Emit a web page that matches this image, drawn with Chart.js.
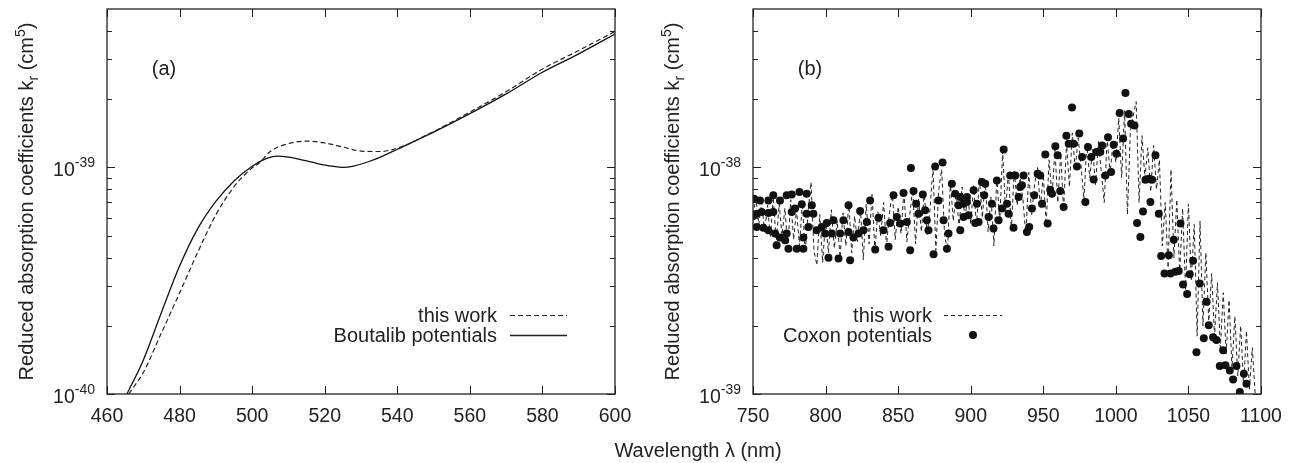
<!DOCTYPE html>
<html>
<head>
<meta charset="utf-8">
<script src="https://cdn.jsdelivr.net/npm/chart.js@4.4.0/dist/chart.umd.min.js"></script>
<style>
  html, body { margin: 0; padding: 0; background: #fff; }
  #wrap { position: relative; width: 1295px; height: 463px; overflow: hidden; }
  canvas { position: absolute; top: 0; }
  #chartA { left: 0; }
  #chartB { left: 640px; }
  #xTitle {
    position: absolute; left: 578px; top: 439px; width: 240px;
    text-align: center; color: #222; line-height: 20px;
    font: 20px "Liberation Sans", Arial, sans-serif;
  }
</style>
</head>
<body>
<div id="wrap">
  <canvas id="chartA" width="640" height="463"></canvas>
  <canvas id="chartB" width="655" height="463"></canvas>
  <div id="xTitle">Wavelength λ (nm)</div>
</div>
<script>
// values are in units of 1e-39 cm^5

// Panel (a)
const boutalibLambda = [465.5, 470, 475, 480, 485, 490, 495, 500, 504, 507, 510, 514, 518, 522, 525, 528, 532, 536, 540, 550, 560, 570, 580, 590, 600];
const boutalibK      = [0.100, 0.141, 0.229, 0.367, 0.537, 0.708, 0.871, 1.012, 1.096, 1.122, 1.109, 1.076, 1.040, 1.012, 1.000, 1.014, 1.059, 1.122, 1.202, 1.430, 1.726, 2.110, 2.630, 3.170, 3.880];
const thisWorkALambda = [466, 470, 475, 480, 485, 490, 495, 500, 502, 505, 510, 515, 520, 525, 530, 535, 540, 550, 560, 570, 580, 590, 600];
const thisWorkAK      = [0.100, 0.1245, 0.186, 0.279, 0.422, 0.617, 0.822, 0.995, 1.047, 1.175, 1.274, 1.306, 1.282, 1.230, 1.180, 1.175, 1.216, 1.440, 1.754, 2.160, 2.716, 3.280, 3.980];

// Panel (b)
const thisWorkBLambda = [
  750, 752, 754, 756, 758, 760, 762, 764, 766, 768, 770, 772, 774, 776, 778, 780, 782, 784, 786, 788,
  790, 792, 794, 796, 798, 800, 802, 804, 806, 808, 810, 812, 814, 816, 818, 820, 822, 824, 826, 828,
  830, 832, 834, 836, 838, 840, 842, 844, 846, 848, 850, 852, 854, 856, 858, 860, 862, 864, 866, 868,
  870, 872, 874, 876, 878, 880, 882, 884, 886, 888, 890, 892, 894, 896, 898, 900, 902, 904, 906, 908,
  910, 912, 914, 916, 918, 920, 922, 924, 926, 928, 930, 932, 934, 936, 938, 940, 942, 944, 946, 948,
  950, 952, 954, 956, 958, 960, 962, 964, 966, 968, 970, 972, 974, 976, 978, 980, 982, 984, 986, 988,
  990, 992, 994, 996, 998, 1000, 1002, 1004, 1006, 1008, 1010, 1012, 1014, 1016, 1018, 1020, 1022, 1024, 1026, 1028,
  1030, 1032, 1034, 1036, 1038, 1040, 1042, 1044, 1046, 1048, 1050, 1052, 1054, 1056, 1058, 1060, 1062, 1064, 1066, 1068,
  1070, 1072, 1074, 1076, 1078, 1080, 1082, 1084, 1086, 1088, 1090, 1092, 1094, 1096
];
const thisWorkBK = [
  6.2, 7.3, 5.6, 7.0, 5.2, 6.8, 4.9, 7.4, 4.6, 6.9, 5.0, 6.6, 4.4, 7.2, 4.8, 6.5, 4.5, 7.0, 4.2, 6.4,
  8.6, 4.3, 3.7, 6.2, 3.8, 5.9, 4.2, 6.5, 4.4, 5.8, 4.0, 6.3, 4.5, 7.0, 4.2, 6.1, 4.7, 6.6, 3.9, 6.9,
  4.6, 7.6, 4.3, 6.4, 5.0, 7.0, 4.5, 6.3, 7.8, 4.8, 6.7, 5.1, 7.9, 4.7, 6.2, 8.0, 4.6, 7.3, 5.2, 7.8,
  5.0, 6.6, 10.0, 4.3, 8.0, 9.8, 5.0, 4.3, 8.6, 5.8, 7.8, 5.4, 8.2, 5.9, 7.6, 5.6, 8.3, 5.5, 9.0, 6.0,
  8.8, 5.2, 7.4, 4.5, 9.0, 5.8, 11.8, 6.4, 9.6, 5.3, 9.8, 6.8, 9.0, 7.2, 5.0, 9.5, 6.2, 8.4, 10.0, 6.6,
  9.3, 5.6, 10.8, 7.4, 12.0, 7.0, 11.5, 6.5, 12.8, 8.2, 14.2, 9.8, 13.5, 10.2, 7.2, 12.8, 9.0, 12.0, 8.4, 13.0,
  9.5, 7.0, 13.5, 9.4, 12.8, 10.5, 16.5, 9.0, 17.8, 6.2, 14.5, 17.0, 19.5, 7.0, 13.8, 9.0, 12.2, 7.8, 12.5, 8.0,
  10.8, 4.5, 7.0, 3.6, 9.8, 4.0, 7.2, 3.4, 6.6, 2.9, 6.9, 3.2, 5.6, 1.8, 5.8, 2.0, 4.2, 2.1, 3.4, 1.8,
  3.1, 1.6, 2.8, 1.5, 2.6, 1.3, 2.2, 1.2, 2.0, 1.1, 1.9, 1.05, 1.6, 1.0
];

const coxonLambda = [
  750.7, 754.8, 760.6, 764.0, 768.6, 773.2, 776.7, 782.0, 787.0, 749.8, 752.5, 756.0, 760.6, 764.0, 776.7, 779.0, 783.6, 787.0,
  752.5, 757.1, 760.6, 765.2, 768.6, 773.2, 766.3, 772.1, 774.4, 780.1, 784.7, 784.7, 788.2, 790.5, 791.6, 793.9, 797.4, 799.7,
  800.8, 802.0, 804.3, 805.4, 808.9, 810.0, 812.3, 815.8, 815.8, 816.9, 819.2, 822.7, 823.8, 826.1, 828.4, 830.7, 834.2, 836.5,
  839.9, 843.4, 844.5, 846.8, 849.1, 851.4, 853.7, 856.0, 858.3, 860.6, 862.4, 864.0, 867.0, 868.6, 869.8, 870.9, 858.8, 875.5,
  874.4, 877.8, 880.6, 881.3, 883.6, 884.7, 887.0, 889.3, 891.6, 892.8, 895.1, 897.4, 892.8, 895.1, 897.4, 898.5, 902.0, 904.3,
  903.1, 905.4, 907.7, 910.0, 909.3, 912.3, 914.6, 915.7, 918.0, 919.2, 921.5, 922.7, 925.0, 926.1, 927.2, 929.5, 930.7, 933.0,
  934.1, 936.4, 935.3, 938.7, 940.3, 942.2, 943.8, 946.1, 947.9, 949.1, 951.4, 953.0, 954.8, 956.0, 958.3, 959.9, 961.7, 964.0,
  965.9, 967.5, 969.8, 970.9, 973.2, 974.8, 976.7, 979.0, 980.8, 983.1, 984.7, 986.6, 989.3, 990.5, 992.8, 994.6, 996.7, 998.5,
  1000.4, 1002.6, 1005.0, 1006.6, 1008.9, 1010.5, 1012.8, 1014.6, 1016.9, 1018.7, 1020.4, 1022.7, 1023.8, 1025.0, 1027.3, 1029.6,
  1031.2, 1033.5, 1036.5, 1037.6, 1039.9, 1041.0, 1043.3, 1044.5, 1046.3, 1049.1, 1050.9, 1053.2, 1055.5, 1057.8, 1060.6, 1062.4,
  1064.0, 1067.0, 1069.3, 1071.6, 1073.9, 1075.5, 1078.5, 1080.8, 1083.1, 1085.4, 1088.2, 1090.0
];
const coxonK = [
  7.28, 7.15, 7.15, 7.53, 7.15, 7.53, 7.60, 7.79, 7.66, 6.08, 6.25, 6.36, 6.29, 6.36, 6.36, 6.58, 6.87, 6.25,
  5.46, 5.42, 5.28, 5.11, 4.90, 5.11, 4.53, 4.77, 4.38, 4.38, 4.38, 4.90, 5.46, 6.80, 6.25, 5.28, 5.46, 5.11,
  5.69, 3.99, 5.11, 5.84, 3.96, 5.11, 5.84, 6.80, 5.19, 3.89, 4.90, 5.11, 6.42, 5.28, 5.74, 7.15, 4.34, 6.00,
  5.28, 4.46, 5.69, 7.53, 6.04, 5.65, 7.71, 5.74, 4.31, 7.87, 6.92, 6.25, 7.60, 6.47, 5.84, 5.28, 9.93, 10.1,
  4.14, 7.15, 10.5, 5.84, 4.38, 5.11, 8.47, 7.66, 6.80, 5.28, 6.04, 7.40, 7.40, 6.92, 7.04, 6.15, 7.92, 6.92,
  5.69, 5.74, 8.62, 8.47, 7.53, 6.04, 6.92, 5.37, 8.76, 5.84, 6.58, 12.0, 6.92, 6.25, 9.22, 5.41, 9.22, 7.40,
  8.19, 9.22, 8.33, 5.19, 5.46, 6.58, 7.53, 9.38, 9.22, 6.92, 11.4, 5.65, 7.97, 7.66, 12.4, 11.3, 7.87, 6.69,
  13.8, 12.7, 18.4, 12.7, 10.1, 14.1, 11.1, 7.04, 12.3, 11.1, 8.85, 11.7, 11.7, 12.5, 9.22, 13.6, 9.54, 12.6,
  11.5, 17.4, 13.4, 21.3, 17.2, 15.6, 15.3, 5.69, 4.93, 6.38, 8.83, 8.91, 7.04, 8.83, 11.3, 6.25,
  4.06, 3.40, 4.10, 3.40, 4.80, 3.46, 3.49, 5.65, 3.04, 2.76, 3.38, 3.87, 1.53, 3.07, 1.76, 2.55,
  2.01, 1.78, 1.73, 1.33, 1.56, 1.34, 1.27, 1.16, 1.33, 1.02, 1.23, 1.11
];

// axis ticks
const xTicksA = [460, 480, 500, 520, 540, 560, 580, 600];
const xTicksB = [750, 800, 850, 900, 950, 1000, 1050, 1100];
const yMajorA = [0.1, 1];
const yMajorLabelsA = ['-40', '-39'];
const yMinorA = [0.2, 0.3, 0.4, 0.5, 0.6, 0.7, 0.8, 0.9, 2, 3, 4];
const yMajorB = [1, 10];
const yMajorLabelsB = ['-39', '-38'];
const yMinorB = [2, 3, 4, 5, 6, 7, 8, 9, 20, 30, 40];

const FONT = '"Liberation Sans", Arial, sans-serif';
const INK = '#222';

function pairs(xs, ys) {
    return xs.map((x, i) => ({ x: x, y: ys[i] }));
}

function drawYTitle(ctx, xBase, yCenter) {
    const parts = [
        { t: 'Reduced absorption coefficients k', size: 20, dy: 0 },
        { t: 'r', size: 14, dy: 5 },
        { t: ' (cm', size: 20, dy: 0 },
        { t: '5', size: 14, dy: -8 },
        { t: ')', size: 20, dy: 0 }
    ];
    ctx.save();
    ctx.translate(xBase, yCenter);
    ctx.rotate(-Math.PI / 2);
    let total = 0;
    parts.forEach(p => {
        ctx.font = p.size + 'px ' + FONT;
        p.w = ctx.measureText(p.t).width;
        total += p.w;
    });
    let x = -total / 2;
    ctx.textAlign = 'left';
    ctx.textBaseline = 'alphabetic';
    parts.forEach(p => {
        ctx.font = p.size + 'px ' + FONT;
        ctx.fillText(p.t, x, p.dy);
        x += p.w;
    });
    ctx.restore();
}

// gnuplot-like frame: inward ticks on all sides, labels, legend
function framePlugin(cfg) {
    return {
        id: 'frame',
        afterDraw(chart) {
            const ctx = chart.ctx;
            const { left, right, top, bottom } = chart.chartArea;
            const xs = chart.scales.x, ys = chart.scales.y;
            ctx.save();
            ctx.strokeStyle = INK;
            ctx.fillStyle = INK;
            ctx.lineWidth = 1;
            ctx.setLineDash([]);

            ctx.beginPath();
            cfg.xTicks.forEach(v => {
                const px = Math.round(xs.getPixelForValue(v)) + 0.5;
                ctx.moveTo(px, bottom); ctx.lineTo(px, bottom - 8);
                ctx.moveTo(px, top); ctx.lineTo(px, top + 8);
            });
            cfg.yMajor.forEach(v => {
                const py = Math.round(ys.getPixelForValue(v)) + 0.5;
                ctx.moveTo(left, py); ctx.lineTo(left + 8, py);
                ctx.moveTo(right, py); ctx.lineTo(right - 8, py);
            });
            cfg.yMinor.forEach(v => {
                const py = Math.round(ys.getPixelForValue(v)) + 0.5;
                ctx.moveTo(left, py); ctx.lineTo(left + 5, py);
                ctx.moveTo(right, py); ctx.lineTo(right - 5, py);
            });
            ctx.stroke();

            ctx.lineWidth = 1.3;
            ctx.strokeRect(left, top, right - left, bottom - top);

            // x tick labels
            ctx.font = '19.5px ' + FONT;
            ctx.textAlign = 'center';
            ctx.textBaseline = 'alphabetic';
            cfg.xTicks.forEach(v => {
                ctx.fillText(String(v), xs.getPixelForValue(v), 422);
            });

            // y tick labels 10^n
            ctx.textAlign = 'left';
            cfg.yMajor.forEach((v, i) => {
                const py = ys.getPixelForValue(v);
                const exp = cfg.yMajorLabels[i];
                ctx.font = '14px ' + FONT;
                const ew = ctx.measureText(exp).width;
                const xr = left - 12;
                ctx.fillText(exp, xr - ew, py);
                ctx.font = '19.5px ' + FONT;
                const bw = ctx.measureText('10').width;
                ctx.fillText('10', xr - ew - bw, py + 9);
            });

            drawYTitle(ctx, left - 74, (top + bottom) / 2);

            // panel letter
            ctx.font = '20px ' + FONT;
            ctx.textAlign = 'center';
            ctx.fillText(cfg.letter, cfg.letterX, 75);

            // legend
            const lg = cfg.legend;
            ctx.textAlign = 'right';
            lg.forEach(item => {
                ctx.font = '20px ' + FONT;
                ctx.fillText(item.text, lg.textRight, item.y + 7);
                if (item.kind === 'dot') {
                    ctx.beginPath();
                    ctx.arc(lg.dotX, item.y, 4, 0, Math.PI * 2);
                    ctx.fillStyle = '#111';
                    ctx.fill();
                    ctx.fillStyle = INK;
                } else {
                    ctx.beginPath();
                    ctx.lineWidth = item.width;
                    ctx.setLineDash(item.dash);
                    ctx.moveTo(lg.lineX0, item.y + 0.5);
                    ctx.lineTo(lg.lineX1, item.y + 0.5);
                    ctx.stroke();
                    ctx.setLineDash([]);
                }
            });
            ctx.restore();
        }
    };
}

function baseOptions(xMin, xMax, yMin, yMax, axisW, rightPad) {
    return {
        responsive: false,
        animation: false,
        events: [],
        layout: { padding: { left: 0, right: rightPad, top: 9, bottom: 0 } },
        plugins: { legend: { display: false }, tooltip: { enabled: false } },
        scales: {
            x: {
                type: 'linear', min: xMin, max: xMax,
                grid: { display: false, drawTicks: false },
                border: { display: false },
                ticks: { display: false },
                afterFit(s) { s.height = 69; }
            },
            y: {
                type: 'logarithmic', min: yMin, max: yMax,
                grid: { display: false, drawTicks: false },
                border: { display: false },
                ticks: { display: false },
                afterFit(s) { s.width = axisW; }
            }
        }
    };
}

// Panel (a)
const legendA = [
    { text: 'this work', y: 315, kind: 'line', dash: [5, 3], width: 1.2 },
    { text: 'Boutalib potentials', y: 335, kind: 'line', dash: [], width: 1.3 }
];
legendA.textRight = 497; legendA.lineX0 = 510; legendA.lineX1 = 567;

new Chart(document.getElementById('chartA'), {
    type: 'line',
    data: {
        datasets: [{
            label: 'this work',
            data: pairs(thisWorkALambda, thisWorkAK),
            borderColor: INK,
            borderWidth: 1.2,
            borderDash: [5, 3],
            pointRadius: 0,
            cubicInterpolationMode: 'monotone'
        }, {
            label: 'Boutalib potentials',
            data: pairs(boutalibLambda, boutalibK),
            borderColor: '#111',
            borderWidth: 1.3,
            pointRadius: 0,
            cubicInterpolationMode: 'monotone'
        }]
    },
    options: baseOptions(460, 600, 0.1, 5, 107, 25),
    plugins: [framePlugin({
        xTicks: xTicksA, yMajor: yMajorA, yMajorLabels: yMajorLabelsA, yMinor: yMinorA,
        letter: '(a)', letterX: 164, legend: legendA
    })]
});

// Panel (b)
const legendB = [
    { text: 'this work', y: 315, kind: 'line', dash: [4, 3], width: 1 },
    { text: 'Coxon potentials', y: 335, kind: 'dot' }
];
legendB.textRight = 292; legendB.lineX0 = 304; legendB.lineX1 = 362; legendB.dotX = 333;

new Chart(document.getElementById('chartB'), {
    type: 'line',
    data: {
        datasets: [{
            label: 'this work',
            data: pairs(thisWorkBLambda, thisWorkBK),
            borderColor: INK,
            borderWidth: 1,
            borderDash: [4, 3],
            pointRadius: 0,
            tension: 0,
            order: 1
        }, {
            label: 'Coxon potentials',
            data: pairs(coxonLambda, coxonK),
            showLine: false,
            pointRadius: 4,
            pointBackgroundColor: '#111',
            pointBorderWidth: 0,
            order: 0
        }]
    },
    options: baseOptions(750, 1100, 1, 50, 113, 34),
    plugins: [framePlugin({
        xTicks: xTicksB, yMajor: yMajorB, yMajorLabels: yMajorLabelsB, yMinor: yMinorB,
        letter: '(b)', letterX: 170, legend: legendB
    })]
});
</script>
</body>
</html>
